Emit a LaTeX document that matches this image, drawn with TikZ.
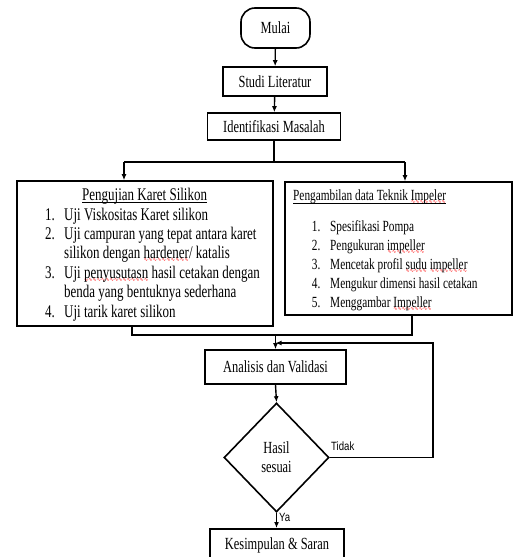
\documentclass[tikz,border=0pt]{standalone}
\usepackage{fontspec}
\setmainfont[FakeStretch=0.73]{Liberation Serif}
\newfontfamily\lblfont[FakeStretch=0.8]{Liberation Sans}
\newfontfamily\wavefont{DejaVu Sans}
\usetikzlibrary{shapes.geometric,arrows.meta}
\newcommand\redwave[1]{\setbox0=\hbox{#1}\rlap{\raisebox{-3.2pt}[0pt][0pt]{\textcolor{red}{\hbox to \wd0{\xleaders\hbox{\wavefont\fontsize{5}{5}\selectfont ∿}\hfill}}}}\box0\relax}
\newcommand\myuline[1]{\setbox0=\hbox{#1}\rlap{\raisebox{-2.6pt}[0pt][0pt]{\rule{\wd0}{0.6pt}}}\box0\relax}
\begin{document}
\begin{tikzpicture}[x=1pt,y=-1pt,
  box/.style={draw, line width=1.6pt, inner sep=0pt, font=\fontsize{17}{19}\selectfont},
  conn/.style={line width=1.4pt},
  arr/.style={line width=1.4pt, -{Latex[length=6pt,width=5pt]}},
  ltxt/.style={anchor=base west, inner sep=0pt, font=\fontsize{17.8}{20}\selectfont},
  rtxt/.style={anchor=base west, inner sep=0pt, font=\fontsize{15.5}{19}\selectfont},
  lbl/.style={anchor=base west, inner sep=0pt, font=\lblfont\fontsize{12}{14}\selectfont}]
\useasboundingbox (0,0) rectangle (513,557);

% flow boxes
\node[box, rounded corners=14pt, minimum width=69pt, minimum height=40pt] (mulai) at (275.5,28) {Mulai};
\node[box, minimum width=104pt, minimum height=29pt] (studi) at (275,81.5) {Studi Literatur};
\node[box, minimum width=133pt, minimum height=27pt] (ident) at (274,126.5) {Identifikasi Masalah};
\node[box, minimum width=256pt, minimum height=145pt] (uji) at (145,253.5) {};
\node[box, minimum width=227pt, minimum height=133pt] (ambil) at (398.5,248.5) {};
\node[box, minimum width=141pt, minimum height=34pt] (anal) at (275.5,367) {Analisis dan Validasi};
\node[box, diamond, minimum width=105pt, minimum height=109pt, align=center] (hasil) at (276.5,457.5) {Hasil\\sesuai};
\node[box, minimum width=134pt, minimum height=34pt, anchor=north] (kes) at (277,528) {Kesimpulan \& Saran};

% left box text
\node[ltxt] (lt0) at (82,200) {\myuline{Pengujian Karet Silikon}};
\node[ltxt] (ln1) at (45,220) {1.};
\node[ltxt] (lt1) at (64,220) {Uji Viskositas Karet silikon};
\node[ltxt] (ln2) at (45,239.5) {2.};
\node[ltxt] (lt2) at (64,239.5) {Uji campuran yang tepat antara karet};
\node[ltxt] (lt2b) at (64,258.5) {silikon dengan \redwave{hardener}/ katalis};
\node[ltxt] (ln3) at (45,278) {3.};
\node[ltxt] (lt3) at (64,278) {Uji \redwave{penyusutasn} hasil cetakan dengan};
\node[ltxt] (lt3b) at (64,297.5) {benda yang bentuknya sederhana};
\node[ltxt] (ln4) at (45,317) {4.};
\node[ltxt] (lt4) at (64,317) {Uji tarik karet silikon};

% right box text
\node[rtxt] (rt0) at (293,200.5) {\myuline{Pengambilan data Teknik \redwave{Impeler}}};
\node[rtxt] (rn1) at (311.7,231) {1.};
\node[rtxt] (rt1) at (330,231) {Spesifikasi Pompa};
\node[rtxt] (rn2) at (311.7,250) {2.};
\node[rtxt] (rt2) at (330,250) {Pengukuran \redwave{impeller}};
\node[rtxt] (rn3) at (311.7,269) {3.};
\node[rtxt] (rt3) at (330,269) {Mencetak profil \redwave{sudu} \redwave{impeller}};
\node[rtxt] (rn4) at (311.7,288) {4.};
\node[rtxt] (rt4) at (330,288) {Mengukur dimensi hasil cetakan};
\node[rtxt] (rn5) at (311.7,307) {5.};
\node[rtxt] (rt5) at (330,307) {Menggambar \redwave{Impeller}};

% connectors
\draw[arr] (mulai) -- (studi);
\draw[arr] (studi) -- (ident);
\coordinate (bl) at (124,162);
\coordinate (br) at (405,162);
\draw[conn] (ident.south) -- (ident.south |- bl);
\draw[conn] (bl) -- (br);
\draw[arr] (bl) -- (bl |- uji.north);
\draw[arr] (br) -- (br |- ambil.north);

\coordinate (ml) at (132,335);
\coordinate (mr) at (412,335);
\draw[conn] (ml |- uji.south) -- (ml) -- (mr) -- (mr |- ambil.south);
\draw[arr] (anal.north |- ml) -- (anal.north);

\coordinate (fb) at (433,343);
\draw[arr] (hasil.east) -- (hasil.east -| fb) -- (fb) -- (anal.north |- fb);
\draw[arr] (anal.south) -- (hasil.north);
\draw[arr] (hasil.south) -- (hasil.south |- kes.north);

\node[lbl] (tidak) at (331,450.5) {Tidak};
\node[lbl] (ya) at (279,521) {Ya};
\end{tikzpicture}
\end{document}
